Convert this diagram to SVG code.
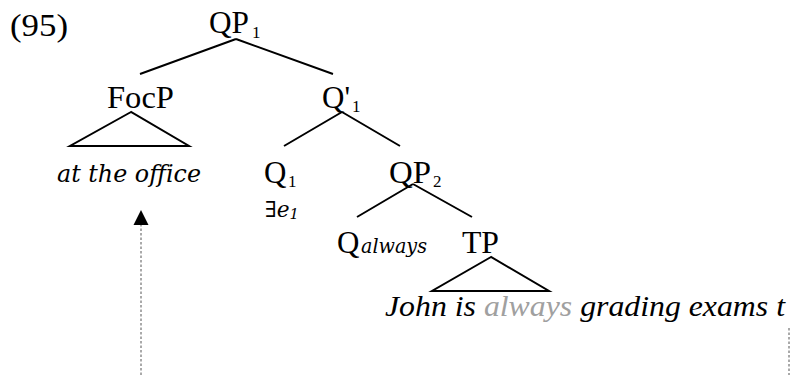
<svg xmlns="http://www.w3.org/2000/svg" width="793" height="375" viewBox="0 0 793 375">
<style>
.lbl{font-family:"Liberation Serif","DejaVu Serif",serif;font-size:31px;fill:#000}
.it{font-family:"DejaVu Serif","Liberation Serif",serif;font-style:italic;fill:#000}
.it2{font-family:"Liberation Serif","DejaVu Serif",serif;font-style:italic;fill:#000}
.sub{font-size:17px}
.edge{stroke:#000;stroke-width:2;fill:none;stroke-linecap:butt}
.dash{stroke:#555;stroke-width:1;stroke-dasharray:2.5 2;fill:none}
</style>
<rect width="793" height="375" fill="#fff"/>
<text id="ex" class="lbl" x="10" y="36" textLength="58" lengthAdjust="spacingAndGlyphs">(95)</text>
<g id="connectors">
<path class="edge" d="M236,39 L140,74 M236,39 L333,74"/>
<path class="edge" d="M131,112 L70,146 L189,146 Z"/>
<path class="edge" d="M342,112 L284,146 M342,112 L400,146"/>
<path class="edge" d="M413,184 L357,217 M413,184 L472,217"/>
<path class="edge" d="M491,257 L432,291 L549,291 Z"/>
<line class="dash" x1="141" y1="375" x2="141" y2="224"/>
<path d="M141,210 L133.5,225 L148.5,225 Z" fill="#000"/>
<line class="dash" x1="789" y1="328" x2="789" y2="375"/>
</g>
<g id="QP1"><text class="lbl" x="209" y="33" textLength="40" lengthAdjust="spacingAndGlyphs">QP</text><text class="lbl sub" x="252" y="38">1</text></g>
<g id="FocP"><text class="lbl" x="107" y="108" textLength="67" lengthAdjust="spacingAndGlyphs">FocP</text></g>
<g id="office"><text class="it" font-size="25" x="57" y="182" textLength="144" lengthAdjust="spacingAndGlyphs">at the office</text></g>
<g id="Qbar1"><text class="lbl" x="322" y="108">Q'</text><text class="lbl sub" x="352" y="112">1</text></g>
<g id="Q1"><text class="lbl" x="264" y="183">Q</text><text class="lbl sub" x="288" y="187">1</text>
<text class="it" font-size="22" x="265" y="217" textLength="34" lengthAdjust="spacingAndGlyphs">∃e<tspan font-size="15" dy="2">1</tspan></text></g>
<g id="QP2"><text class="lbl" x="389" y="183" textLength="42" lengthAdjust="spacingAndGlyphs">QP</text><text class="lbl sub" x="433" y="187">2</text></g>
<g id="Qalways"><text class="lbl" x="337" y="253">Q</text><text class="it" font-size="20" x="361" y="253" textLength="66" lengthAdjust="spacingAndGlyphs">always</text></g>
<g id="TP"><text class="lbl" x="462" y="253" textLength="37" lengthAdjust="spacingAndGlyphs">TP</text></g>
<g id="sentence"><text class="it2" font-size="30" x="385" y="316" textLength="400" lengthAdjust="spacingAndGlyphs">John is <tspan fill="#a0a0a0">always</tspan> grading exams t</text></g>
</svg>
